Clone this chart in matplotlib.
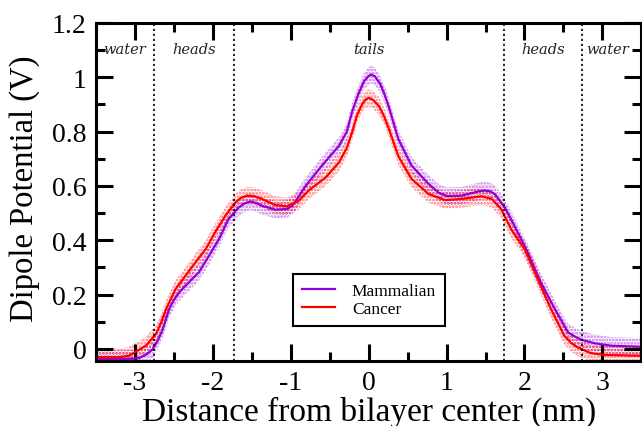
import matplotlib
matplotlib.use('Agg')
import matplotlib.pyplot as plt
from matplotlib.ticker import MultipleLocator, FixedLocator

# distance from bilayer centre (nm) and dipole potential (V)
mamm_x = [-3.5, -3.2, -3.05, -2.95, -2.85, -2.77, -2.71, -2.65, -2.56, -2.5, -2.43, -2.31,
          -2.18, -2.05, -1.92, -1.8, -1.67, -1.6, -1.52, -1.45, -1.37, -1.2, -1.05, -0.98,
          -0.9, -0.81, -0.6, -0.38, -0.28, -0.21, -0.13, -0.06, 0.0, 0.035, 0.08, 0.15,
          0.2, 0.26, 0.38, 0.55, 0.77, 0.9, 1.0, 1.19, 1.41, 1.49, 1.56, 1.62, 1.75, 1.87,
          2.04, 2.21, 2.39, 2.56, 2.65, 2.73, 2.9, 3.11, 3.5]
mamm_y = [-0.037, -0.037, -0.036, -0.034, -0.02, 0.0, 0.03, 0.067, 0.147, 0.18, 0.209, 0.245,
          0.282, 0.343, 0.405, 0.478, 0.52, 0.535, 0.543, 0.538, 0.527, 0.513, 0.515, 0.527,
          0.56, 0.60, 0.675, 0.748, 0.8, 0.875, 0.94, 0.985, 1.005, 1.01, 1.003, 0.975,
          0.94, 0.89, 0.773, 0.675, 0.607, 0.575, 0.563, 0.564, 0.58, 0.583, 0.58, 0.57,
          0.52, 0.454, 0.356, 0.245, 0.147, 0.061, 0.045, 0.034, 0.021, 0.012, 0.008]

canc_x = [-3.5, -3.2, -3.08, -2.99, -2.86, -2.73, -2.66, -2.6, -2.48, -2.35, -2.22, -2.09,
          -1.97, -1.84, -1.71, -1.64, -1.56, -1.47, -1.37, -1.2, -1.05, -0.9, -0.77, -0.55,
          -0.38, -0.28, -0.21, -0.15, -0.085, -0.04, 0.0, 0.05, 0.13, 0.2, 0.26, 0.38, 0.55,
          0.77, 0.98, 1.19, 1.45, 1.58, 1.7, 1.83, 2.0, 2.17, 2.34, 2.51, 2.6, 2.68, 2.85,
          3.02, 3.5]
canc_y = [-0.03, -0.03, -0.025, -0.01, 0.012, 0.055, 0.1, 0.147, 0.22, 0.27, 0.32, 0.368,
          0.43, 0.49, 0.54, 0.556, 0.564, 0.562, 0.552, 0.53, 0.525, 0.545, 0.583, 0.632,
          0.687, 0.74, 0.8, 0.86, 0.90, 0.918, 0.924, 0.918, 0.895, 0.855, 0.81, 0.71, 0.626,
          0.57, 0.548, 0.552, 0.562, 0.552, 0.515, 0.44, 0.368, 0.258, 0.147, 0.049, 0.022,
          0.006, -0.015, -0.022, -0.025]

mamm_err = 0.032
canc_err = 0.032

region_bounds = [-2.75, -1.73, 1.74, 2.74]
region_names = ['water', 'heads', 'tails', 'heads', 'water']
region_pos = [-3.13, -2.24, 0.0, 2.24, 3.06]

violet = '#9400D3'
red = '#FF0000'

plt.rcParams['hatch.linewidth'] = 1.4

fig = plt.figure(figsize=(6.42, 4.27), dpi=100)
ax = fig.add_axes([0.1495, 0.153, 0.8495, 0.791])

ax.fill_between(mamm_x, [v - mamm_err for v in mamm_y], [v + mamm_err for v in mamm_y],
                facecolor='none', edgecolor=violet, hatch='.....', linewidth=0, alpha=0.55)
ax.fill_between(canc_x, [v - canc_err for v in canc_y], [v + canc_err for v in canc_y],
                facecolor='none', edgecolor=red, hatch='.....', linewidth=0, alpha=0.55)
ax.plot(mamm_x, mamm_y, color=violet, lw=1.6, label='Mammalian')
ax.plot(canc_x, canc_y, color=red, lw=1.6, label='Cancer')

for b in region_bounds:
    ax.axvline(b, color='black', ls=(0, (1.3, 1.7)), lw=1.2)
for name, p in zip(region_names, region_pos):
    ax.text(p, 1.104, name, ha='center', va='center', fontsize=10.5,
            family='DejaVu Serif', style='italic', color='#222222')

ax.set_xlim(-3.5, 3.5)
ax.set_ylim(-0.043, 1.2)
ax.xaxis.set_major_locator(FixedLocator([-3, -2, -1, 0, 1, 2, 3]))
ax.xaxis.set_minor_locator(MultipleLocator(0.5))
ax.yaxis.set_major_locator(FixedLocator([0, 0.2, 0.4, 0.6, 0.8, 1.0, 1.2]))
ax.yaxis.set_minor_locator(MultipleLocator(0.1))
ax.set_yticklabels(['0', '0.2', '0.4', '0.6', '0.8', '1', '1.2'])
ax.set_xticklabels(['-3', '-2', '-1', '0', '1', '2', '3'])

ax.tick_params(which='both', direction='in', top=True, right=True, width=2.2,
               labelsize=20, pad=7)
ax.tick_params(which='major', length=12)
ax.tick_params(which='minor', length=6.5)
for lab in ax.get_xticklabels() + ax.get_yticklabels():
    lab.set_family('Liberation Serif')
for s in ax.spines.values():
    s.set_linewidth(2.2)

fig.text(0.575, 0.014, 'Distance from bilayer center (nm)', fontsize=24,
         family='Liberation Serif', ha='center', va='baseline')
fig.text(0.039, 0.557, 'Dipole Potential (V)', fontsize=23.5, rotation=90,
         family='Liberation Serif', ha='center', va='center')

leg = ax.legend(loc='lower left', bbox_to_anchor=(0.361, 0.103), borderaxespad=0,
                fancybox=False, edgecolor='black', framealpha=1,
                prop={'family': 'Liberation Serif', 'size': 12.5},
                handlelength=1.9, handletextpad=1.0, labelspacing=0.1,
                borderpad=0.5)
leg.get_frame().set_linewidth(1.5)

fig.savefig('out.png', dpi=100)
